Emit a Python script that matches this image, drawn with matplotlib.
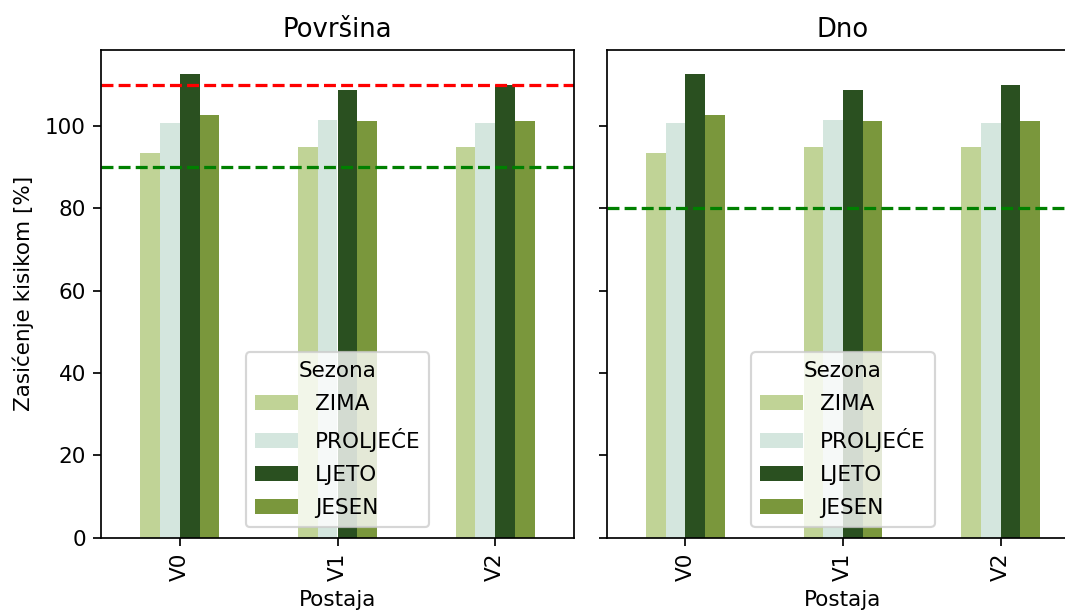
import numpy as np
import matplotlib
matplotlib.use("Agg")
import matplotlib.pyplot as plt

stations = ["V0", "V1", "V2"]
seasons = ["ZIMA", "PROLJEĆE", "LJETO", "JESEN"]
colors = ["#c0d396", "#d4e6de", "#2a5020", "#7a973c"]

surface = {
    "ZIMA": [93.5, 95.0, 95.0],
    "PROLJEĆE": [100.8, 101.5, 100.8],
    "LJETO": [112.6, 108.8, 110.0],
    "JESEN": [102.7, 101.2, 101.2],
}
bottom_vals = {
    "ZIMA": [93.5, 95.0, 95.0],
    "PROLJEĆE": [100.8, 101.5, 100.8],
    "LJETO": [112.6, 108.8, 110.0],
    "JESEN": [102.7, 101.2, 101.2],
}
panels = ["Površina", "Dno"]
surface_limits = [(110, "red"), (90, "green")]
bottom_limits = [(80, "green")]

dpi = 155
fig = plt.figure(figsize=(1065 / dpi, 610 / dpi), dpi=dpi)
W, H = 1065, 610
ax1 = fig.add_axes([101 / W, (H - 537.7) / H, 473 / W, (537.7 - 50) / H])
ax2 = fig.add_axes([606.5 / W, (H - 537.7) / H, 473 / W, (537.7 - 50) / H], sharey=ax1)

x = np.arange(len(stations))
total_w = 0.5
bw = total_w / len(seasons)

for ax, data, title, limits in [
    (ax1, surface, panels[0], surface_limits),
    (ax2, bottom_vals, panels[1], bottom_limits),
]:
    for j, (s, c) in enumerate(zip(seasons, colors)):
        off = -total_w / 2 + bw / 2 + j * bw
        ax.bar(x + off, data[s], width=bw, color=c, label=s)
    for val, col in limits:
        ax.axhline(val, color=col, linestyle="--", linewidth=1.5)
    ax.set_xticks(x)
    ax.set_xticklabels(stations, rotation=90)
    ax.set_xlim(-0.5, 2.5)
    ax.set_title(title, fontsize=12)
    ax.set_xlabel("Postaja")
    ax.legend(title="Sezona", loc="lower center", labelspacing=0.62)

ax1.set_ylim(0, 118.45)
ax1.set_ylabel("Zasićenje kisikom [%]", labelpad=5)
plt.setp(ax2.get_yticklabels(), visible=False)

fig.savefig("out.png", dpi=dpi)
